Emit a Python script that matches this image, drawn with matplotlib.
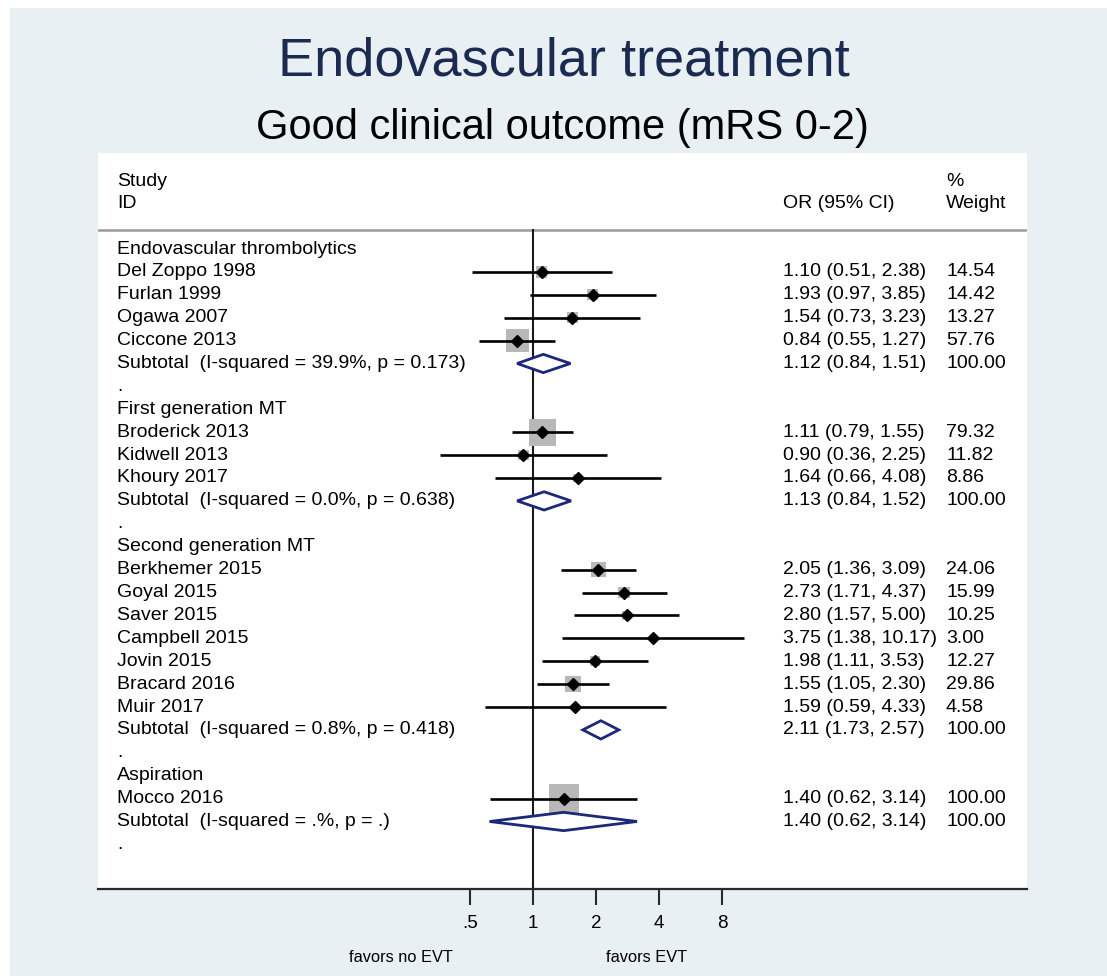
import numpy as np
import matplotlib
matplotlib.use("Agg")
import matplotlib.pyplot as plt
from matplotlib.patches import Rectangle, Polygon
import matplotlib.transforms as mtransforms

plt.rcParams['font.family'] = ['Liberation Sans', 'DejaVu Sans']

# ---------------- data ----------------
group_names = ["Endovascular thrombolytics", "First generation MT",
               "Second generation MT", "Aspiration"]
studies = ["Del Zoppo 1998", "Furlan 1999", "Ogawa 2007", "Ciccone 2013",
           "Broderick 2013", "Kidwell 2013", "Khoury 2017",
           "Berkhemer 2015", "Goyal 2015", "Saver 2015", "Campbell 2015",
           "Jovin 2015", "Bracard 2016", "Muir 2017",
           "Mocco 2016"]
study_group = [0, 0, 0, 0, 1, 1, 1, 2, 2, 2, 2, 2, 2, 2, 3]
or_est = [1.10, 1.93, 1.54, 0.84, 1.11, 0.90, 1.64,
          2.05, 2.73, 2.80, 3.75, 1.98, 1.55, 1.59, 1.40]
ci_lo = [0.51, 0.97, 0.73, 0.55, 0.79, 0.36, 0.66,
         1.36, 1.71, 1.57, 1.38, 1.11, 1.05, 0.59, 0.62]
ci_hi = [2.38, 3.85, 3.23, 1.27, 1.55, 2.25, 4.08,
         3.09, 4.37, 5.00, 10.17, 3.53, 2.30, 4.33, 3.14]
weight = [14.54, 14.42, 13.27, 57.76, 79.32, 11.82, 8.86,
          24.06, 15.99, 10.25, 3.00, 12.27, 29.86, 4.58, 100.00]

sub_or = [1.12, 1.13, 2.11, 1.40]
sub_lo = [0.84, 0.84, 1.73, 0.62]
sub_hi = [1.51, 1.52, 2.57, 3.14]
sub_i2 = ["39.9%", "0.0%", "0.8%", ".%"]
sub_p = ["0.173", "0.638", "0.418", "."]
sub_weight = [100.00, 100.00, 100.00, 100.00]

xtick_vals = [0.5, 1, 2, 4, 8]
xtick_labels = [".5", "1", "2", "4", "8"]

title = "Endovascular treatment"
subtitle = "Good clinical outcome (mRS 0-2)"
favors_left = "favors no EVT"
favors_right = "favors EVT"

# ---------------- layout ----------------
W, H = 1107, 976
fig = plt.figure(figsize=(W / 100, H / 100), dpi=100)
fig.patch.set_facecolor('white')
bg = '#e8f0f3'
fig.add_artist(Rectangle((10 / W, 0), 1 - 10 / W, 1 - 8 / H,
                         transform=fig.transFigure, facecolor=bg,
                         edgecolor='none', zorder=-10))

px_l, px_r, px_t, px_b = 98, 1027, 153, 889
ax = fig.add_axes([px_l / W, 1 - px_b / H, (px_r - px_l) / W, (px_b - px_t) / H])
ax.set_facecolor('white')

x1_px, per_dbl = 533, 63.0
ax.set_xscale('log', base=2)
ax.set_xlim(2 ** ((px_l - x1_px) / per_dbl), 2 ** ((px_r - x1_px) / per_dbl))
row0_px, row_h = 249, 22.9
ax.set_ylim(-(px_b - row0_px) / row_h, (row0_px - px_t) / row_h)

for s in ['top', 'left', 'right']:
    ax.spines[s].set_visible(False)
ax.spines['bottom'].set_color('#2a2a2a')
ax.spines['bottom'].set_linewidth(1.6)
ax.set_yticks([])
ax.set_xticks(xtick_vals)
ax.set_xticklabels(xtick_labels)
ax.xaxis.set_minor_locator(matplotlib.ticker.NullLocator())
ax.tick_params(axis='x', direction='out', length=11.5, width=1.5,
               color='#2a2a2a', labelsize=13.5, pad=7)

fs = 14
tr = mtransforms.blended_transform_factory(ax.transAxes, ax.transData)
x_lab = (117 - px_l) / (px_r - px_l)
x_or = (783 - px_l) / (px_r - px_l)
x_wt = (946 - px_l) / (px_r - px_l)

# header
y_study = (row0_px - 182) / row_h
y_id = (row0_px - 203) / row_h
y_line = (row0_px - 230) / row_h
ax.text(x_lab, y_study, "Study", transform=tr, fontsize=fs, va='center')
ax.text(x_lab, y_id, "ID", transform=tr, fontsize=fs, va='center')
ax.text(x_or, y_id, "OR (95% CI)", transform=tr, fontsize=fs, va='center')
ax.text(x_wt, y_study, "%", transform=tr, fontsize=fs, va='center')
ax.text(x_wt, y_id, "Weight", transform=tr, fontsize=fs, va='center')
ax.axhline(y_line, color='#9c9c9c', lw=1.8, zorder=1)

# null line
ax.plot([1, 1], [y_line, ax.get_ylim()[0]], color='#1a1a1a', lw=1.5, zorder=2)

navy = '#1c2878'
k = 0
for g, gname in enumerate(group_names):
    y = -k
    ax.text(x_lab, y, gname, transform=tr, fontsize=fs, va='center')
    k += 1
    for i, sname in enumerate(studies):
        if study_group[i] != g:
            continue
        y = -k
        ax.text(x_lab, y, sname, transform=tr, fontsize=fs, va='center')
        ax.text(x_or, y, f"{or_est[i]:.2f} ({ci_lo[i]:.2f}, {ci_hi[i]:.2f})",
                transform=tr, fontsize=fs, va='center')
        ax.text(x_wt, y, f"{weight[i]:.2f}", transform=tr, fontsize=fs, va='center')
        side_pt = 3.0 * np.sqrt(weight[i]) * 0.72
        ax.scatter([or_est[i]], [y], marker='s', s=side_pt ** 2,
                   color='#b8b8b8', edgecolors='none', zorder=3)
        ax.plot([ci_lo[i], ci_hi[i]], [y, y], color='black', lw=1.9,
                solid_capstyle='butt', zorder=4)
        ax.plot([or_est[i]], [y], marker='D', ms=6.5, color='black',
                mec='black', zorder=5)
        k += 1
    y = -k
    ax.text(x_lab, y, f"Subtotal  (I-squared = {sub_i2[g]}, p = {sub_p[g]})",
            transform=tr, fontsize=fs, va='center')
    ax.text(x_or, y, f"{sub_or[g]:.2f} ({sub_lo[g]:.2f}, {sub_hi[g]:.2f})",
            transform=tr, fontsize=fs, va='center')
    ax.text(x_wt, y, f"{sub_weight[g]:.2f}", transform=tr, fontsize=fs, va='center')
    hh = 0.40
    ax.add_patch(Polygon([(sub_lo[g], y), (sub_or[g], y + hh), (sub_hi[g], y),
                          (sub_or[g], y - hh)], closed=True, facecolor='white',
                         edgecolor=navy, lw=2.0, zorder=4))
    k += 1
    ax.text(x_lab, -k, ".", transform=tr, fontsize=fs, va='center')
    k += 1

# favors labels
trb = mtransforms.blended_transform_factory(ax.transData, ax.transAxes)
y_fav = (px_b - 957) / (px_b - px_t)
lx = 2 ** ((401 - x1_px) / per_dbl)
rx = 2 ** ((647 - x1_px) / per_dbl)
ax.text(lx, y_fav, favors_left, transform=trb, fontsize=11.8, ha='center',
        va='center', clip_on=False)
ax.text(rx, y_fav, favors_right, transform=trb, fontsize=11.8, ha='center',
        va='center', clip_on=False)

# titles
fig.text(563.5 / W, 1 - 62 / H, title, fontsize=39, color='#1b2a50',
         ha='center', va='center')
fig.text(562.5 / W, 1 - 128 / H, subtitle, fontsize=30, color='black',
         ha='center', va='center')

fig.savefig("out.png", dpi=100, facecolor=fig.get_facecolor())
